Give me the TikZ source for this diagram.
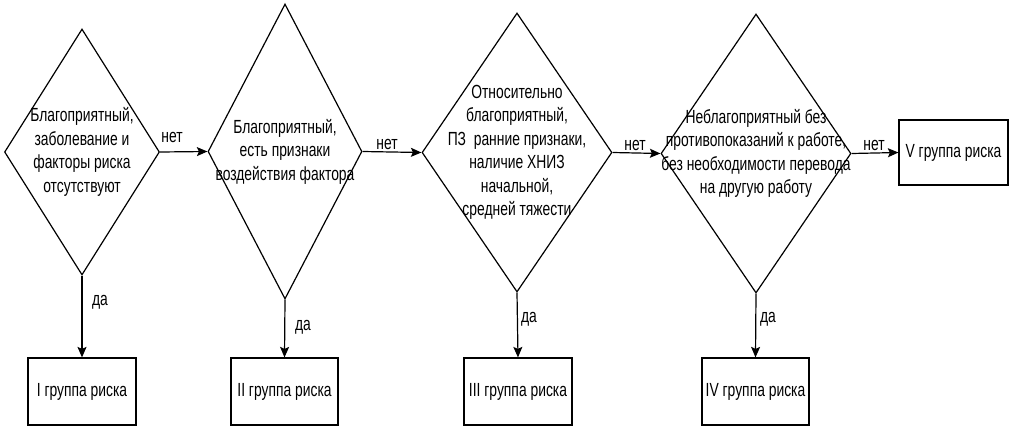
\documentclass[tikz,border=0pt]{standalone}
\usepackage{fontspec}
\setmainfont{Liberation Sans}[FakeStretch=0.73]
\usetikzlibrary{shapes.geometric,arrows.meta}
\begin{document}
\begin{tikzpicture}[x=1pt,y=-1pt,
  dia/.style={draw,shape=diamond,inner sep=0pt,line width=1.2pt},
  box/.style={draw,rectangle,inner sep=0pt,line width=1.2pt,font=\fontsize{19}{23}\selectfont},
  txt/.style={align=center,inner sep=0pt,font=\fontsize{19}{23.5}\selectfont},
  lab/.style={inner sep=0pt,font=\fontsize{19}{21}\selectfont},
  arr/.style={line width=1.2pt,-{Stealth[length=10.5pt,width=9pt,inset=2pt]}}]
\fill[white] (0,0) rectangle (1012,431);
\useasboundingbox (0,0) rectangle (1012,431);
% decisions
\node[dia,minimum width=155pt,minimum height=246pt,
  label={[txt]center:{Благоприятный,\\заболевание и\\факторы риска\\отсутствуют}}] (d1) at (82,152) {};
\node[dia,minimum width=154pt,minimum height=295pt,
  label={[txt]center:{Благоприятный,\\есть признаки\\воздействия фактора}}] (d2) at (285,151.5) {};
\node[dia,minimum width=190pt,minimum height=279pt,
  label={[txt]center:{Относительно\\благоприятный,\\ПЗ\ \ ранние признаки,\\наличие ХНИЗ\\начальной,\\средней тяжести}}] (d3) at (517,152.5) {};
\node[dia,minimum width=190pt,minimum height=279pt,
  label={[txt]center:{Неблагоприятный без\\противопоказаний к работе,\\без необходимости перевода\\на другую работу}}] (d4) at (756,153.5) {};
% outcome boxes
\node[box,minimum width=108pt,minimum height=67pt] (b1) at (82,391.5) {I группа риска};
\node[box,minimum width=107pt,minimum height=67pt] (b2) at (284.5,391.5) {II группа риска};
\node[box,minimum width=108pt,minimum height=67pt] (b3) at (518,391.5) {III группа риска};
\node[box,minimum width=107pt,minimum height=67pt] (b4) at (755.5,391.5) {IV группа риска};
\node[box,minimum width=109pt,minimum height=65pt] (b5) at (953.5,152.5) {V группа риска};
% connectors
\draw[arr] (d1.east) -- (d2.west);
\draw[arr] (d2.east) -- (d3.west);
\draw[arr] (d3.east) -- (d4.west);
\draw[arr] (d4.east) -- (b5.west);
\draw[arr] (d1.south) -- (b1.north);
\draw[arr] (d2.south) -- (b2.north);
\draw[arr] (d3.south) -- (b3.north);
\draw[arr] (d4.south) -- (b4.north);
% labels
\node[lab] (n1) at (172,137) {нет};
\node[lab] (n2) at (387,144) {нет};
\node[lab] (n3) at (635,145) {нет};
\node[lab] (n4) at (874,145) {нет};
\node[lab] (y1) at (100,302) {да};
\node[lab] (y2) at (303,327) {да};
\node[lab] (y3) at (529,319) {да};
\node[lab] (y4) at (768,319) {да};
\end{tikzpicture}
\end{document}
